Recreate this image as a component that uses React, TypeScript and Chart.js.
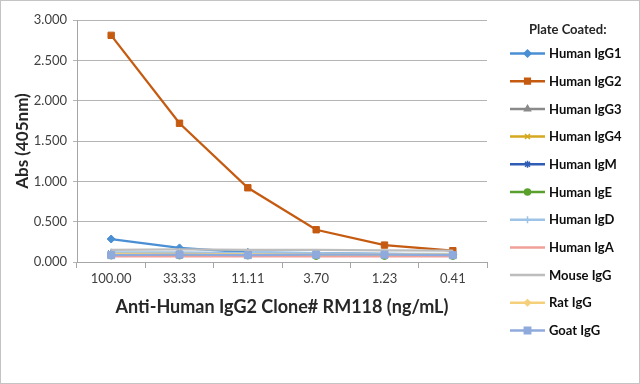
import React, { useEffect, useRef } from "react";
import { Chart, registerables } from "chart.js";
import { drawPoint } from "chart.js/helpers";

Chart.register(...registerables);

const categories = ["100.00", "33.33", "11.11", "3.70", "1.23", "0.41"];

const humanIgG1 = [0.285, 0.175, 0.12, 0.11, 0.1, 0.09];
const humanIgG2 = [2.81, 1.72, 0.92, 0.4, 0.21, 0.14];
const humanIgG3 = [0.1, 0.1, 0.09, 0.09, 0.085, 0.085];
const humanIgG4 = [0.09, 0.09, 0.085, 0.085, 0.08, 0.08];
const humanIgM = [0.11, 0.11, 0.1, 0.1, 0.09, 0.09];
const humanIgE = [0.08, 0.08, 0.08, 0.075, 0.075, 0.075];
const humanIgD = [0.12, 0.12, 0.11, 0.11, 0.1, 0.1];
const humanIgA = [0.07, 0.07, 0.07, 0.07, 0.07, 0.07];
const mouseIgG = [0.15, 0.155, 0.15, 0.15, 0.145, 0.14];
const ratIgG = [0.1, 0.1, 0.095, 0.09, 0.09, 0.09];
const goatIgG = [0.085, 0.09, 0.085, 0.09, 0.09, 0.085];

const yTicks = [0, 0.5, 1, 1.5, 2, 2.5, 3];

const FONT = "Lato, 'Open Sans', sans-serif";

type S = { label: string; data: number[]; color: string; style: any; radius: number };

const series: S[] = [
  { label: "Human IgG1", data: humanIgG1, color: "#4a8fd4", style: "rectRot", radius: 4 },
  { label: "Human IgG2", data: humanIgG2, color: "#c55a11", style: "rect", radius: 4.5 },
  { label: "Human IgG3", data: humanIgG3, color: "#8a8a8a", style: "triangle", radius: 4 },
  { label: "Human IgG4", data: humanIgG4, color: "#d4a820", style: "crossRot", radius: 4 },
  { label: "Human IgM", data: humanIgM, color: "#2f5cb5", style: "star", radius: 4 },
  { label: "Human IgE", data: humanIgE, color: "#5aa02c", style: "circle", radius: 3.5 },
  { label: "Human IgD", data: humanIgD, color: "#9dc3e6", style: "cross", radius: 4 },
  { label: "Human IgA", data: humanIgA, color: "#f0a099", style: false, radius: 0 },
  { label: "Mouse IgG", data: mouseIgG, color: "#bdbdbd", style: false, radius: 0 },
  { label: "Rat IgG", data: ratIgG, color: "#f5cf7a", style: "rectRot", radius: 3 },
  { label: "Goat IgG", data: goatIgG, color: "#8faadc", style: "rect", radius: 5 },
];

const legendPlugin = {
  id: "customLegend",
  afterDraw(chart: any) {
    const ctx = chart.ctx;
    const ca = chart.chartArea;
    const x0 = ca.right + 23;
    ctx.save();
    ctx.fillStyle = "#262626";
    ctx.font = `bold 13px ${FONT}`;
    ctx.textBaseline = "middle";
    ctx.textAlign = "left";
    ctx.fillText("Plate Coated:", x0 + 19, 30);
    series.forEach((s, i) => {
      const y = 53.5 + i * 27.7;
      ctx.strokeStyle = s.color;
      ctx.lineWidth = 2.5;
      ctx.beginPath();
      ctx.moveTo(x0, y);
      ctx.lineTo(x0 + 35, y);
      ctx.stroke();
      if (s.style) {
        ctx.fillStyle = s.color;
        ctx.strokeStyle = s.color;
        ctx.lineWidth = 1.5;
        drawPoint(
          ctx,
          { pointStyle: s.style, radius: Math.max(3, s.radius - 0.5), rotation: 0, borderWidth: 1.5 } as any,
          x0 + 17.5,
          y
        );
      }
      ctx.fillStyle = "#0d0d0d";
      ctx.font = `bold 13px ${FONT}`;
      ctx.fillText(s.label, x0 + 39, y + 0.5);
    });
    ctx.restore();
  },
};

export default function App() {
  const ref = useRef<HTMLCanvasElement | null>(null);
  useEffect(() => {
    if (!ref.current) return;
    const chart = new Chart(ref.current, {
      type: "line",
      data: {
        labels: categories,
        datasets: series.map((s, i) => ({
          label: s.label,
          data: s.data,
          borderColor: s.color,
          backgroundColor: s.color,
          borderWidth: 2.25,
          pointStyle: s.style,
          pointRadius: s.radius,
          pointBorderWidth: 1,
          pointBorderColor: s.color,
          pointBackgroundColor: s.color,
          tension: 0,
          order: -i,
        })),
      },
      options: {
        animation: false,
        responsive: false,
        maintainAspectRatio: false,
        layout: { padding: { left: 0, right: 153, top: 20, bottom: 0 } },
        plugins: {
          legend: { display: false },
          tooltip: { enabled: false },
        },
        scales: {
          x: {
            type: "category",
            offset: true,
            grid: {
              drawOnChartArea: false,
              drawTicks: true,
              tickLength: 6,
              color: "#a6a6a6",
              offset: true,
            },
            border: { color: "#a6a6a6", width: 1 },
            ticks: {
              color: "#404040",
              font: { family: FONT, size: 13 },
              padding: 3,
              maxRotation: 0,
            },
            title: {
              display: true,
              text: "Anti-Human IgG2 Clone# RM118 (ng/mL)",
              color: "#262626",
              font: { family: FONT, size: 18, weight: "bold" },
              padding: { top: 0, bottom: 66 },
            },
            afterFit(scale: any) {
              scale.height = 122;
            },
          },
          y: {
            min: 0,
            max: 3,
            afterBuildTicks(scale: any) {
              scale.ticks = yTicks.map((v) => ({ value: v }));
            },
            grid: { color: "#b4b4b4", tickLength: 4, lineWidth: 1 },
            border: { color: "#a6a6a6", width: 1 },
            ticks: {
              color: "#404040",
              font: { family: FONT, size: 13 },
              padding: 6,
              callback: (v: any) => Number(v).toFixed(3),
            },
            title: {
              display: true,
              text: "Abs (405nm)",
              color: "#262626",
              font: { family: FONT, size: 17, weight: "bold" },
              padding: { top: 12, bottom: 0 },
            },
            afterFit(scale: any) {
              scale.width = 77;
            },
          },
        },
      },
      plugins: [legendPlugin],
    });
    return () => chart.destroy();
  }, []);
  return (
    <div style={{ position: "fixed", left: 0, top: 0, width: 640, height: 384, background: "#fff" }}>
      <canvas ref={ref} width={640} height={384} style={{ width: 640, height: 384, display: "block" }} />
      <div
        style={{
          position: "absolute",
          inset: 0,
          border: "1px solid #c4c4c4",
          pointerEvents: "none",
        }}
      />
    </div>
  );
}
